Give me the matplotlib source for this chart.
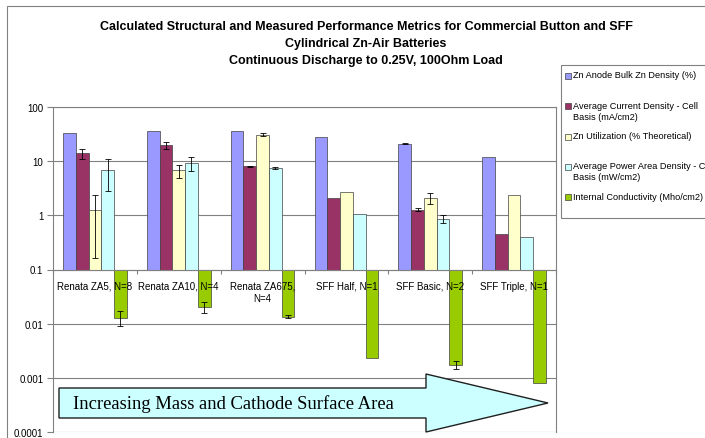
import matplotlib
matplotlib.use('Agg')
import matplotlib.pyplot as plt
import numpy as np
from matplotlib.patches import Polygon, Rectangle
from matplotlib.ticker import FixedLocator, FuncFormatter, NullFormatter

title_lines = ['Calculated Structural and Measured Performance Metrics for Commercial Button and SFF',
               'Cylindrical Zn-Air Batteries',
               'Continuous Discharge to 0.25V, 100Ohm Load']

categories = ['Renata ZA5, N=8', 'Renata ZA10, N=4', 'Renata ZA675,\nN=4',
              'SFF Half, N=1', 'SFF Basic, N=2', 'SFF Triple, N=1']

series_names = ['Zn Anode Bulk Zn Density (%)',
                'Average Current Density - Cell\nBasis (mA/cm2)',
                'Zn Utilization (% Theoretical)',
                'Average Power Area Density - Cell\nBasis (mW/cm2)',
                'Internal Conductivity (Mho/cm2)']
colors = ['#9999FF', '#993366', '#FFFFCC', '#CCFFFF', '#99CC00']

# values
zn_density = [32.9, 36.7, 35.8, 27.8, 20.9, 11.9]
current_density = [14.1, 19.8, 8.1, 2.09, 1.27, 0.46]
zn_utilization = [1.26, 6.74, 31.0, 2.70, 2.09, 2.38]
power_density = [6.86, 9.2, 7.46, 1.06, 0.87, 0.39]
conductivity = [0.0129, 0.0202, 0.0135, 0.0023, 0.00173, 0.00082]

# error bars (0 = none shown)
zn_density_err = [0, 0, 0, 0, 0.3, 0]
current_density_err = [3.0, 3.2, 0.2, 0, 0.08, 0]
zn_utilization_err = [1.1, 1.8, 2.0, 0, 0.45, 0]
power_density_err = [4.0, 2.7, 0.4, 0, 0.14, 0]
conductivity_err = [0.004, 0.0045, 0.0007, 0, 0.0003, 0]

series = [zn_density, current_density, zn_utilization, power_density, conductivity]
errors = [zn_density_err, current_density_err, zn_utilization_err, power_density_err, conductivity_err]

W, H = 705, 439
fig = plt.figure(figsize=(W / 100, H / 100), dpi=100)
plt.rcParams['font.family'] = ['Liberation Sans', 'DejaVu Sans']

def fx(px):
    return px / W

def fy(py):
    return 1 - py / H

# outer chart border (runs off the right/bottom edge)
fig.patches.append(Rectangle((fx(7), fy(460)), 1.2, fy(7) - fy(460), transform=fig.transFigure,
                             fill=False, edgecolor='#808080', lw=0.8))

ax = fig.add_axes([fx(53), fy(433), fx(556) - fx(53), fy(108) - fy(433)])
ax.set_yscale('log')
ax.set_ylim(1e-4, 100)

base = 0.1
x = np.arange(len(categories))
w = 0.152
for k, (vals, errs, c) in enumerate(zip(series, errors, colors)):
    pos = x + (k - 2) * w
    vals = np.array(vals)
    ax.bar(pos, vals - base, bottom=base, width=w, color=c, edgecolor='#404040', lw=0.5, zorder=2)
    errs = np.array(errs)
    m = errs > 0
    ax.errorbar(pos[m], vals[m], yerr=errs[m], fmt='none', ecolor='black', elinewidth=0.6,
                capsize=2.5, capthick=0.6, zorder=3)

ax.set_xlim(-0.5, len(categories) - 0.5)
ax.yaxis.grid(True, color='#808080', lw=0.8)
ax.set_axisbelow(True)
ax.xaxis.set_zorder(5)  # category labels sit on top of the green bars
ax.minorticks_off()
ax.yaxis.set_major_locator(FixedLocator([1e-4, 1e-3, 1e-2, 0.1, 1, 10, 100]))
ax.yaxis.set_major_formatter(FuncFormatter(lambda v, p: '{:g}'.format(v)))
ax.yaxis.set_minor_formatter(NullFormatter())
ax.tick_params(axis='y', length=4, width=0.8, color='#808080', labelsize=7, pad=3)

ax.spines['bottom'].set_position(('data', base))
ax.set_xticks(x)
ax.set_xticklabels(categories, fontsize=7, linespacing=1.3)
ax.set_xticks(np.arange(len(categories) + 1) - 0.5, minor=True)
ax.tick_params(axis='x', which='major', length=0, pad=8)
ax.tick_params(axis='x', which='minor', length=3, width=0.8, color='#808080', direction='out')
for s in ax.spines.values():
    s.set_color('#808080')
    s.set_linewidth(0.8)

# title
for i, line in enumerate(title_lines):
    fig.text(fx(366), fy(27 + i * 17), line, ha='center', va='center', fontsize=9, fontweight='bold')

# legend drawn by hand so markers sit on the first text line
fig.patches.append(Rectangle((fx(561), fy(219)), 1.0, fy(66) - fy(219), transform=fig.transFigure,
                             facecolor='white', edgecolor='#808080', lw=0.8))
for i, (name, c) in enumerate(zip(series_names, colors)):
    yc = 77 + i * 30.3
    fig.patches.append(Rectangle((fx(565), fy(yc + 3)), fx(6), fy(yc - 3) - fy(yc + 3),
                                 transform=fig.transFigure, facecolor=c, edgecolor='#404040', lw=0.5))
    fig.text(fx(573), fy(yc - 5.5), name, ha='left', va='top', fontsize=6.6, linespacing=1.25)

# big annotation arrow
arrow_px = [(59, 389), (426, 389), (426, 375), (548, 404), (426, 433), (426, 419), (59, 419)]
fig.patches.append(Polygon([(fx(a), fy(b)) for a, b in arrow_px], closed=True, transform=fig.transFigure,
                           facecolor='#CCFFFF', edgecolor='#202020', lw=1.0, zorder=5))
fig.text(fx(73), fy(404), 'Increasing Mass and Cathode Surface Area', ha='left', va='center',
         fontsize=13.4, family='Liberation Serif', zorder=6)

fig.savefig('out.png', dpi=100)
